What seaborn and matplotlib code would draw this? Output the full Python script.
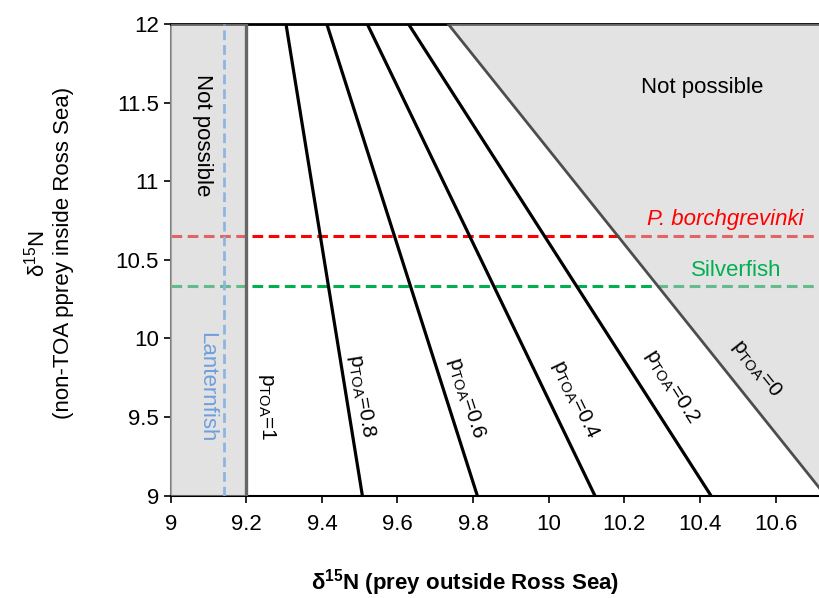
import numpy as np
import pandas as pd
import matplotlib
matplotlib.use("Agg")
import matplotlib.pyplot as plt
import seaborn as sns


# mixing lines: x where each line meets y=12 and y=9
P_VALUES = [1, 0.8, 0.6, 0.4, 0.2, 0]
P_LABELS = ["1", "0.8", "0.6", "0.4", "0.2", "0"]
X_AT_TOP = [9.2, 9.305, 9.413, 9.520, 9.629, 9.734]
X_AT_BOTTOM = [9.2, 9.507, 9.811, 10.122, 10.429, 10.732]
Y_TOP = 12
Y_BOTTOM = 9

# prey values
PREY_NAMES = ["P. borchgrevinki", "Silverfish"]
PREY_Y = [10.65, 10.335]
LANTERNFISH_X = 9.14

X_TICKS = [9, 9.2, 9.4, 9.6, 9.8, 10, 10.2, 10.4, 10.6]
X_TICK_LABELS = ["9", "9.2", "9.4", "9.6", "9.8", "10", "10.2", "10.4", "10.6"]
Y_TICKS = [9, 9.5, 10, 10.5, 11, 11.5, 12]
Y_TICK_LABELS = ["9", "9.5", "10", "10.5", "11", "11.5", "12"]

XLIM = (9, 10.715)
YLIM = (9, 12)

# label positions for the p_TOA lines
LABEL_POS = [(9.254, 9.565), (9.505, 9.63), (9.781, 9.62),
             (10.07, 9.61), (10.325, 9.69), (10.55, 9.81)]


def main():
    sns.set_theme(style="ticks")
    plt.rcParams["font.family"] = ["Liberation Sans", "DejaVu Sans"]
    plt.rcParams["mathtext.fontset"] = "custom"
    plt.rcParams["mathtext.rm"] = "Liberation Sans"
    plt.rcParams["mathtext.it"] = "Liberation Sans:italic"
    plt.rcParams["mathtext.bf"] = "Liberation Sans:bold"

    fig = plt.figure(figsize=(8.19, 5.98), dpi=100)
    ax = fig.add_axes([0.2084, 0.1714, 0.7916, 0.7885])
    ax.set_xlim(*XLIM)
    ax.set_ylim(*YLIM)

    # prey horizontal dashed lines
    prey_colors = ["#ff0000", "#00b050"]
    for yv, col in zip(PREY_Y, prey_colors):
        ax.axhline(yv, color=col, lw=2.2, dashes=(3.5, 1.8), zorder=2)

    # shaded "not possible" areas, drawn semi-transparent over the dashed lines
    ax.fill_betweenx([Y_BOTTOM, Y_TOP], XLIM[0], X_AT_TOP[0],
                     facecolor="#c6c6c6", alpha=0.5, edgecolor="none", zorder=3)
    ax.fill_betweenx([Y_BOTTOM, Y_TOP], [X_AT_BOTTOM[-1], X_AT_TOP[-1]], 11,
                     facecolor="#c8c8c8", alpha=0.5, edgecolor="none", zorder=3)

    # mixing lines
    for p, xt, xb in zip(P_VALUES, X_AT_TOP, X_AT_BOTTOM):
        if p == 1:
            col, lw = "#666666", 2.4
        elif p == 0:
            col, lw = "#4d4d4d", 2.0
        else:
            col, lw = "black", 2.3
        df = pd.DataFrame({"x": [xb, xt], "y": [Y_BOTTOM, Y_TOP]})
        sns.lineplot(data=df, x="x", y="y", color=col, lw=lw, ax=ax,
                     sort=False, estimator=None, zorder=4)

    # lanternfish vertical dashed line
    ax.axvline(LANTERNFISH_X, color="#8eb4e3", lw=2.0, dashes=(3.5, 1.8), zorder=5)

    # line labels, rotated along each line
    for p_lab, (lx, ly), xt, xb in zip(P_LABELS, LABEL_POS, X_AT_TOP, X_AT_BOTTOM):
        p0 = ax.transData.transform((xb, Y_BOTTOM))
        p1 = ax.transData.transform((xt, Y_TOP))
        ang = np.degrees(np.arctan2(p1[1] - p0[1], p1[0] - p0[0])) - 180
        ax.text(lx, ly, r"$\mathrm{p}_{\mathrm{TOA}}$=" + p_lab, rotation=ang,
                rotation_mode="anchor", ha="center", va="center",
                fontsize=15, color="black", zorder=6)

    # region and prey texts
    ax.text(9.085, 11.29, "Not possible", rotation=-90, ha="center", va="center",
            fontsize=16, color="black", zorder=6)
    ax.text(10.405, 11.594, "Not possible", ha="center", va="center",
            fontsize=16, color="black", zorder=6)
    ax.text(9.095, 9.69, "Lanternfish", rotation=-90, ha="center", va="center",
            fontsize=16, color="#6f9fdc", zorder=6)
    ax.text(10.466, 10.757, PREY_NAMES[0], ha="center", va="center",
            fontsize=16, color="#ff0000", style="italic", zorder=6)
    ax.text(10.497, 10.43, PREY_NAMES[1], ha="center", va="center",
            fontsize=16, color="#00b050", zorder=6)

    # axes
    ax.set_xticks(X_TICKS)
    ax.set_xticklabels(X_TICK_LABELS)
    ax.set_yticks(Y_TICKS)
    ax.set_yticklabels(Y_TICK_LABELS)
    ax.tick_params(axis="both", labelsize=16, colors="black", direction="out",
                   length=5, width=1.2)
    ax.tick_params(axis="x", pad=8)
    ax.spines["right"].set_visible(False)
    ax.spines["top"].set_color("black")
    ax.spines["top"].set_linewidth(2)
    ax.spines["bottom"].set_color("black")
    ax.spines["bottom"].set_linewidth(1.5)
    ax.spines["left"].set_color("#808080")
    ax.spines["left"].set_linewidth(1.5)

    ax.set_xlabel("δ$^{\\mathbf{15}}$N (prey outside Ross Sea)", fontsize=16,
                  fontweight="bold", color="black")
    ax.set_ylabel("δ$^{15}$N\n(non-TOA pprey inside Ross Sea)", fontsize=16,
                  color="black", linespacing=1.2)
    ax.xaxis.set_label_coords(0.454, -0.152)
    ax.yaxis.set_label_coords(-0.149, 0.514)

    fig.savefig("out.png", dpi=100)
    plt.close(fig)


if __name__ == "__main__":
    main()
